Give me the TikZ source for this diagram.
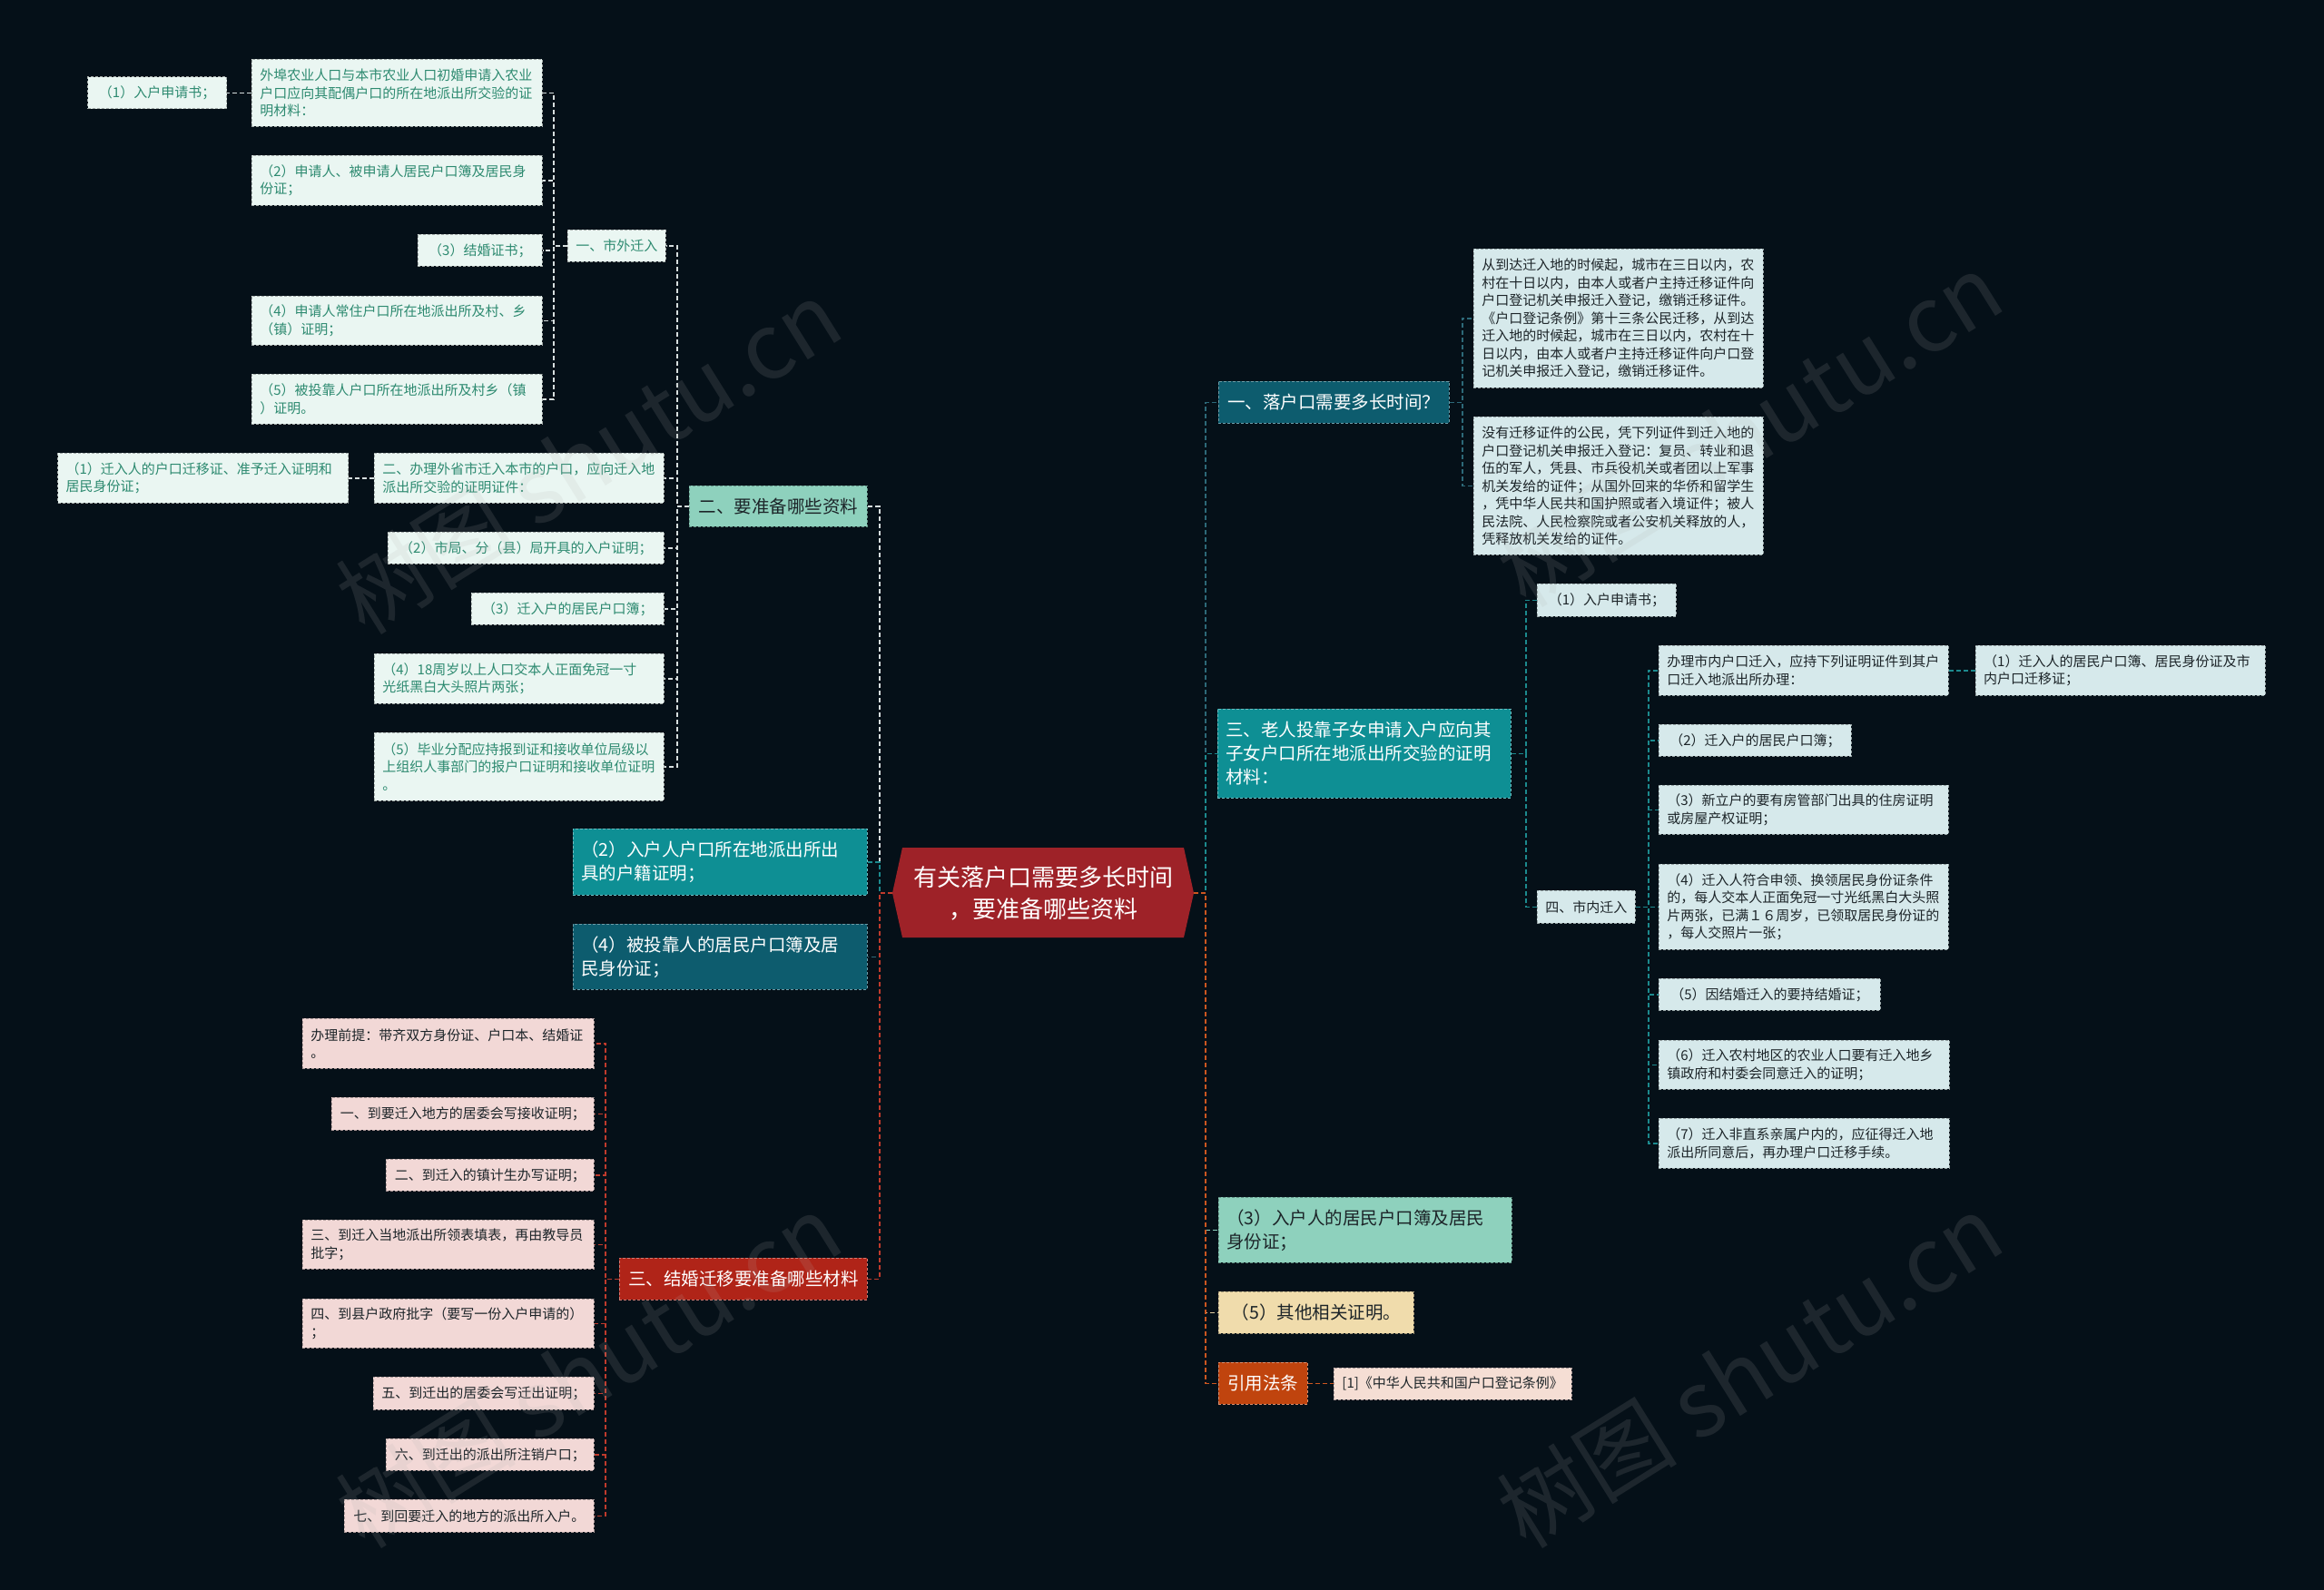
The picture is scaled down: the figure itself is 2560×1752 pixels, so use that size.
\documentclass[tikz,border=0pt]{standalone}
\usepackage{fontspec}
\setmainfont{Noto Sans CJK SC}
\usetikzlibrary{positioning}
\definecolor{bgdark}{RGB}{5,16,24}
\definecolor{hexred}{RGB}{158,34,40}
\definecolor{mint}{RGB}{142,209,189}
\definecolor{tealA}{RGB}{14,143,148}
\definecolor{tealB}{RGB}{13,92,110}
\definecolor{redbox}{RGB}{176,36,24}
\definecolor{orangebox}{RGB}{192,68,14}
\definecolor{beige}{RGB}{240,220,172}
\definecolor{gleaf}{RGB}{234,246,242}
\definecolor{gtext}{RGB}{45,138,112}
\definecolor{bleaf}{RGB}{214,233,235}
\definecolor{pleaf}{RGB}{242,216,214}
\definecolor{cleaf}{RGB}{245,222,212}
\definecolor{dtext}{RGB}{28,36,40}
\definecolor{lnwhite}{RGB}{214,222,222}
\definecolor{lnteal}{RGB}{28,138,142}
\definecolor{lndark}{RGB}{45,105,120}
\definecolor{lnred}{RGB}{192,58,44}
\definecolor{lnorange}{RGB}{204,86,32}
\definecolor{lnbeige}{RGB}{225,205,160}

\begin{document}
\begin{tikzpicture}[x=1pt, y=-1pt,
  box/.style={anchor=north west, inner xsep=9pt, inner ysep=3pt, align=left,
              dash pattern=on 3pt off 2pt, line width=0.8pt},
  leafg/.style={box, fill=gleaf, draw=gleaf!70!black, text=gtext,
                font=\fontsize{15}{19.5}\selectfont},
  leafb/.style={box, fill=bleaf, draw=bleaf!70!black, text=dtext,
                font=\fontsize{15}{19.5}\selectfont},
  leafp/.style={box, fill=pleaf, draw=pleaf!70!black, text=dtext,
                font=\fontsize{15}{19.5}\selectfont},
  mid/.style={box, font=\fontsize{19.5}{26}\selectfont},
  link/.style={dash pattern=on 5pt off 3pt, line width=1.6pt},
  wmark/.style={rotate=32, text=gray!60, opacity=0.14,
                font=\fontsize{100}{100}\selectfont}]

  \fill[bgdark] (0,0) rectangle (2560,1752);
  \useasboundingbox (0,0) rectangle (2560,1752);

  % centre topic
  \fill[hexred] (983,984) -- (994,934) -- (1304,934) -- (1315,984)
    -- (1304,1033) -- (994,1033) -- cycle;
  \node[font=\fontsize{26}{35}\selectfont, text=white, align=center,
        minimum width=332pt, minimum height=99pt, inner sep=0pt]
    (c) at (1149,984) {有关落户口需要多长时间\\，要准备哪些资料};

  % left branch: 二、要准备哪些资料
  \node[mid, fill=mint, draw=mint!70!black, text=dtext,
        minimum width=196pt, minimum height=45pt, align=center]
    (zb) at (759,535) {二、要准备哪些资料};
  \node[leafg, minimum width=107pt, minimum height=35pt] (sw) at (625,253) {一、市外迁入};
  \node[leafg, text width=302pt, minimum height=74pt] (lA) at (277,65)
    {外埠农业人口与本市农业人口初婚申请入农业\\户口应向其配偶户口的所在地派出所交验的证\\明材料：};
  \node[leafg, left=27pt of lA, minimum width=153pt, minimum height=35pt] (lA1) {（1）入户申请书；};
  \node[leafg, text width=302pt, minimum height=55pt] (lB) at (277,171)
    {（2）申请人、被申请人居民户口簿及居民身\\份证；};
  \node[leafg, minimum width=137pt, minimum height=35pt] (lC) at (460,258) {（3）结婚证书；};
  \node[leafg, text width=302pt, minimum height=54pt] (lD) at (277,326)
    {（4）申请人常住户口所在地派出所及村、乡\\（镇）证明；};
  \node[leafg, text width=302pt, minimum height=55pt] (lE) at (277,412)
    {（5）被投靠人户口所在地派出所及村乡（镇\\）证明。};
  \node[leafg, text width=301pt, minimum height=55pt] (lF) at (412,499)
    {二、办理外省市迁入本市的户口，应向迁入地\\派出所交验的证明证件：};
  \node[leafg, left=28pt of lF, text width=302pt, minimum height=55pt] (lF1)
    {（1）迁入人的户口迁移证、准予迁入证明和\\居民身份证；};
  \node[leafg, minimum width=304pt, minimum height=35pt] (lG) at (427,586) {（2）市局、分（县）局开具的入户证明；};
  \node[leafg, minimum width=212pt, minimum height=35pt] (lH) at (519,653) {（3）迁入户的居民户口簿；};
  \node[leafg, text width=301pt, minimum height=55pt] (lI) at (412,720)
    {（4）18周岁以上人口交本人正面免冠一寸\\光纸黑白大头照片两张；};
  \node[leafg, text width=301pt, minimum height=75pt] (lJ) at (412,807)
    {（5）毕业分配应持报到证和接收单位局级以\\上组织人事部门的报户口证明和接收单位证明\\。};

  % left branch: two single boxes
  \node[mid, fill=tealA, draw=tealA!60!white, text=white, text width=306pt,
        minimum height=73pt] (m2) at (631,913)
    {（2）入户人户口所在地派出所出\\具的户籍证明；};
  \node[mid, fill=tealB, draw=tealB!60!white, text=white, text width=306pt,
        minimum height=72pt] (m4) at (631,1018)
    {（4）被投靠人的居民户口簿及居\\民身份证；};

  % left branch: 三、结婚迁移要准备哪些材料
  \node[mid, fill=redbox, draw=redbox!60!white, text=white,
        minimum width=273pt, minimum height=46pt, align=center]
    (jh) at (682,1386) {三、结婚迁移要准备哪些材料};
  \node[leafp, text width=303pt, minimum height=55pt] (p0) at (333,1122)
    {办理前提：带齐双方身份证、户口本、结婚证\\。};
  \node[leafp, minimum width=289pt, minimum height=36pt] (p1) at (365,1209) {一、到要迁入地方的居委会写接收证明；};
  \node[leafp, minimum width=229pt, minimum height=35pt] (p2) at (425,1277) {二、到迁入的镇计生办写证明；};
  \node[leafp, text width=303pt, minimum height=54pt] (p3) at (333,1344)
    {三、到迁入当地派出所领表填表，再由教导员\\批字；};
  \node[leafp, text width=303pt, minimum height=54pt] (p4) at (333,1431)
    {四、到县户政府批字（要写一份入户申请的）\\；};
  \node[leafp, minimum width=243pt, minimum height=36pt] (p5) at (411,1517) {五、到迁出的居委会写迁出证明；};
  \node[leafp, minimum width=229pt, minimum height=35pt] (p6) at (425,1585) {六、到迁出的派出所注销户口；};
  \node[leafp, minimum width=275pt, minimum height=36pt] (p7) at (379,1652) {七、到回要迁入的地方的派出所入户。};

  % right branch: 一、落户口需要多长时间？
  \node[mid, fill=tealB, draw=tealB!60!white, text=white,
        minimum width=254pt, minimum height=46pt, align=center]
    (lh) at (1342,420) {一、落户口需要多长时间？};
  \node[leafb, text width=301pt, minimum height=153pt] (r1) at (1623,274)
    {从到达迁入地的时候起，城市在三日以内，农\\村在十日以内，由本人或者户主持迁移证件向\\户口登记机关申报迁入登记，缴销迁移证件。\\《户口登记条例》第十三条公民迁移，从到达\\迁入地的时候起，城市在三日以内，农村在十\\日以内，由本人或者户主持迁移证件向户口登\\记机关申报迁入登记，缴销迁移证件。};
  \node[leafb, text width=301pt, minimum height=152pt] (r2) at (1623,459)
    {没有迁移证件的公民，凭下列证件到迁入地的\\户口登记机关申报迁入登记：复员、转业和退\\伍的军人，凭县、市兵役机关或者团以上军事\\机关发给的证件；从国外回来的华侨和留学生\\，凭中华人民共和国护照或者入境证件；被人\\民法院、人民检察院或者公安机关释放的人，\\凭释放机关发给的证件。};

  % right branch: 三、老人投靠子女
  \node[mid, fill=tealA, draw=tealA!60!white, text=white, text width=305pt,
        minimum height=98pt] (lr) at (1341,781)
    {三、老人投靠子女申请入户应向其\\子女户口所在地派出所交验的证明\\材料：};
  \node[leafb, minimum width=153pt, minimum height=36pt] (q1) at (1693,643) {（1）入户申请书；};
  \node[leafb, minimum width=107pt, minimum height=36pt] (sn) at (1693,981) {四、市内迁入};
  \node[leafb, text width=301pt, minimum height=55pt] (s0) at (1827,711)
    {办理市内户口迁入，应持下列证明证件到其户\\口迁入地派出所办理：};
  \node[leafb, right=29pt of s0, text width=301pt, minimum height=55pt] (s0a)
    {（1）迁入人的居民户口簿、居民身份证及市\\内户口迁移证；};
  \node[leafb, minimum width=212pt, minimum height=35pt] (s2) at (1827,798) {（2）迁入户的居民户口簿；};
  \node[leafb, text width=301pt, minimum height=54pt] (s3) at (1827,865)
    {（3）新立户的要有房管部门出具的住房证明\\或房屋产权证明；};
  \node[leafb, text width=301pt, minimum height=94pt] (s4) at (1827,952)
    {（4）迁入人符合申领、换领居民身份证条件\\的，每人交本人正面免冠一寸光纸黑白大头照\\片两张，已满１６周岁，已领取居民身份证的\\，每人交照片一张；};
  \node[leafb, minimum width=244pt, minimum height=35pt] (s5) at (1827,1078) {（5）因结婚迁入的要持结婚证；};
  \node[leafb, text width=302pt, minimum height=54pt] (s6) at (1827,1146)
    {（6）迁入农村地区的农业人口要有迁入地乡\\镇政府和村委会同意迁入的证明；};
  \node[leafb, text width=302pt, minimum height=55pt] (s7) at (1827,1232)
    {（7）迁入非直系亲属户内的，应征得迁入地\\派出所同意后，再办理户口迁移手续。};

  % right branch: remaining boxes
  \node[mid, fill=mint, draw=mint!70!black, text=dtext, text width=305pt,
        minimum height=72pt] (m3) at (1342,1319)
    {（3）入户人的居民户口簿及居民\\身份证；};
  \node[mid, fill=beige, draw=beige!70!black, text=dtext,
        minimum width=215pt, minimum height=46pt, align=center]
    (m5) at (1342,1423) {（5）其他相关证明。};
  \node[mid, fill=orangebox, draw=orangebox!60!white, text=white,
        minimum width=98pt, minimum height=46pt, align=center]
    (yf) at (1342,1501) {引用法条};
  \node[leafp, fill=cleaf, right=28pt of yf, minimum width=262pt, minimum height=35pt]
    (yf1) {[1]《中华人民共和国户口登记条例》};

  % connectors, left half
  \draw[link, lnwhite] (c.west) -- ++(-14,0) |- (zb.east);
  \draw[link, lnteal] (c.west) -- ++(-14,0) |- (m2.east);
  \draw[link, lndark] (c.west) -- ++(-14,0) |- (m4.east);
  \draw[link, lnred] (c.west) -- ++(-14,0) |- (jh.east);

  \draw[link, lnwhite] (zb.west) -- ++(-13,0) |- (sw.east);
  \draw[link, lnwhite] (zb.west) -- ++(-13,0) |- (lF.east);
  \draw[link, lnwhite] (zb.west) -- ++(-13,0) |- (lG.east);
  \draw[link, lnwhite] (zb.west) -- ++(-13,0) |- (lH.east);
  \draw[link, lnwhite] (zb.west) -- ++(-13,0) |- (lI.east);
  \draw[link, lnwhite] (zb.west) -- ++(-13,0) |- (lJ.east);
  \draw[link, lnwhite] (lF.west) -- (lF1.east);

  \draw[link, lnwhite] (sw.west) -- ++(-15,0) |- (lA.east);
  \draw[link, lnwhite] (sw.west) -- ++(-15,0) |- (lB.east);
  \draw[link, lnwhite] (sw.west) -- ++(-15,0) |- (lC.east);
  \draw[link, lnwhite] (sw.west) -- ++(-15,0) |- (lD.east);
  \draw[link, lnwhite] (sw.west) -- ++(-15,0) |- (lE.east);
  \draw[link, lnwhite] (lA.west) -- (lA1.east);

  \draw[link, lnred] (jh.west) -- ++(-15,0) |- (p0.east);
  \draw[link, lnred] (jh.west) -- ++(-15,0) |- (p1.east);
  \draw[link, lnred] (jh.west) -- ++(-15,0) |- (p2.east);
  \draw[link, lnred] (jh.west) -- ++(-15,0) |- (p3.east);
  \draw[link, lnred] (jh.west) -- ++(-15,0) |- (p4.east);
  \draw[link, lnred] (jh.west) -- ++(-15,0) |- (p5.east);
  \draw[link, lnred] (jh.west) -- ++(-15,0) |- (p6.east);
  \draw[link, lnred] (jh.west) -- ++(-15,0) |- (p7.east);

  % connectors, right half
  \draw[link, lndark] (c.east) -- ++(13,0) |- (lh.west);
  \draw[link, lnteal] (c.east) -- ++(13,0) |- (lr.west);
  \draw[link, mint] (c.east) -- ++(13,0) |- (m3.west);
  \draw[link, lnbeige] (c.east) -- ++(13,0) |- (m5.west);
  \draw[link, lnorange] (c.east) -- ++(13,0) |- (yf.west);
  \draw[link, lnorange] (yf.east) -- (yf1.west);

  \draw[link, lndark] (lh.east) -- ++(14,0) |- (r1.west);
  \draw[link, lndark] (lh.east) -- ++(14,0) |- (r2.west);

  \draw[link, lnteal] (lr.east) -- ++(16,0) |- (q1.west);
  \draw[link, lnteal] (lr.east) -- ++(16,0) |- (sn.west);
  \draw[link, lnteal] (sn.east) -- ++(14,0) |- (s0.west);
  \draw[link, lnteal] (sn.east) -- ++(14,0) |- (s2.west);
  \draw[link, lnteal] (sn.east) -- ++(14,0) |- (s3.west);
  \draw[link, lnteal] (sn.east) -- ++(14,0) |- (s4.west);
  \draw[link, lnteal] (sn.east) -- ++(14,0) |- (s5.west);
  \draw[link, lnteal] (sn.east) -- ++(14,0) |- (s6.west);
  \draw[link, lnteal] (sn.east) -- ++(14,0) |- (s7.west);
  \draw[link, lnteal] (s0.east) -- (s0a.west);

  % watermarks
  \node[wmark] (wm1) at (648,503) {树图 shutu.cn};
  \node[wmark] (wm2) at (1927,473) {树图 shutu.cn};
  \node[wmark] (wm3) at (648,1510) {树图 shutu.cn};
  \node[wmark] (wm4) at (1927,1510) {树图 shutu.cn};
\end{tikzpicture}
\end{document}
